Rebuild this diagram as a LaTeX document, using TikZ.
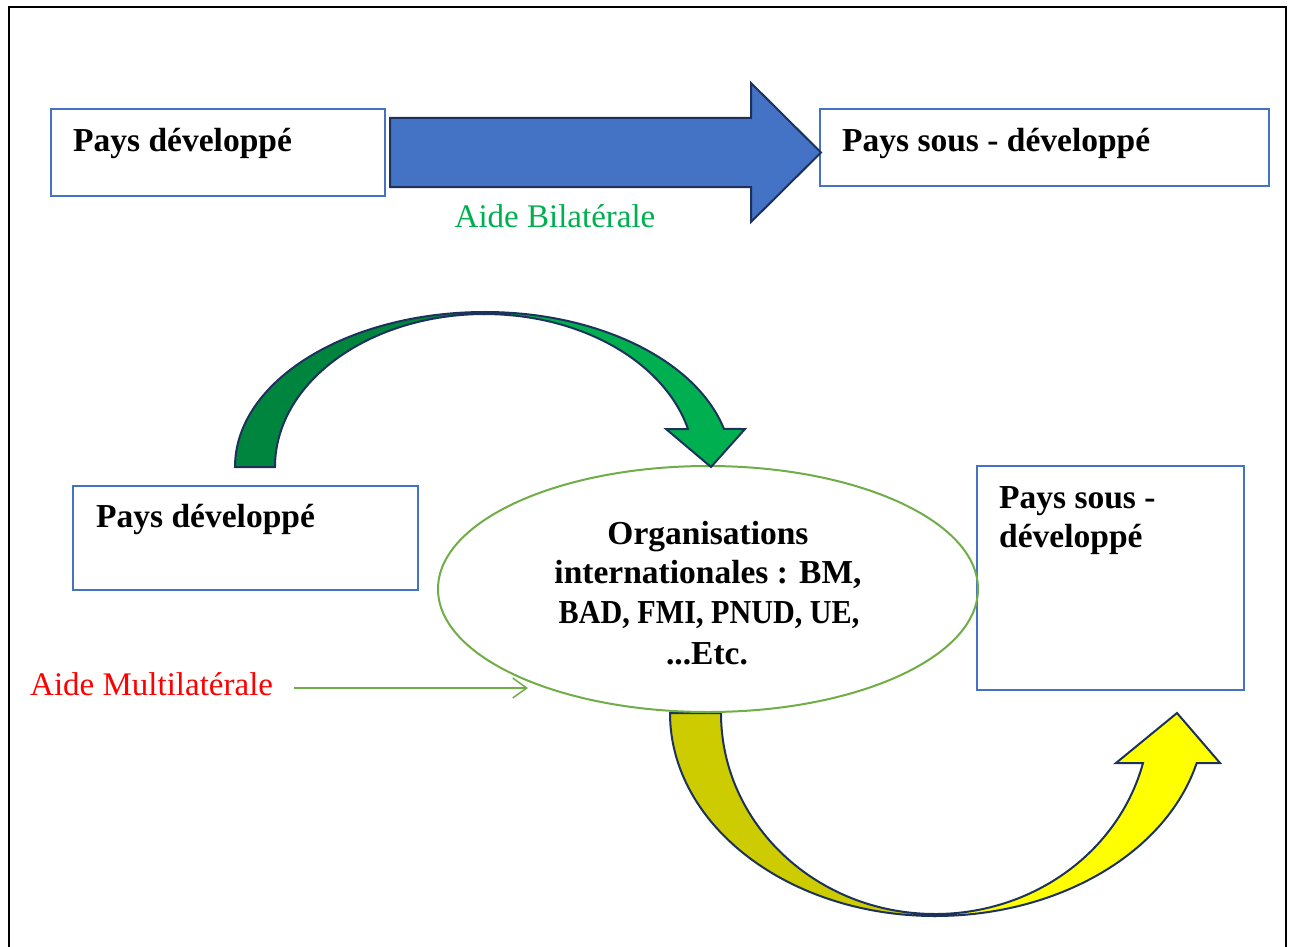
\documentclass[tikz,border=0pt]{standalone}
\usepackage{fontspec}
\setmainfont{Liberation Serif}
\usetikzlibrary{arrows.meta,calc,shapes.geometric}
\definecolor{boxblue}{RGB}{68,114,196}
\definecolor{arrowline}{RGB}{28,50,90}
\definecolor{darkgr}{RGB}{0,133,62}
\definecolor{brightgr}{RGB}{0,176,80}
\definecolor{olivefill}{RGB}{204,204,0}
\definecolor{yelfill}{RGB}{255,255,0}
\definecolor{ellgreen}{RGB}{112,173,71}
\begin{document}
\begin{tikzpicture}[x=1pt,y=1pt,
  box/.style={draw=boxblue, line width=2pt, rectangle, inner sep=0pt},
  btxt/.style={font=\fontsize{33.5}{40}\selectfont\bfseries, inner sep=0pt},
  lbl/.style={font=\fontsize{33}{40}\selectfont, inner sep=0pt},
  blockarrow/.style={draw=arrowline, line width=2pt, line join=miter}]
\useasboundingbox (0,0) rectangle (1290,-947);
\draw[line width=1.4pt] (9,-960) -- (9,-7) -- (1286,-7) -- (1286,-960);

% top row
\node[box, minimum width=334pt, minimum height=87pt] (pd1) at (218,-152.5) {};
\node[btxt, anchor=base west] (t1) at (73,-151) {Pays développé};
\node[box, minimum width=449pt, minimum height=77pt] (psd1) at (1044.5,-147.5) {};
\node[btxt, anchor=base west] (t2) at (842,-151) {Pays sous - développé};

\coordinate (a1s) at ($(pd1.east)+(4,0)$);
\coordinate (a1t) at ($(psd1.west)+(2,-5)$);
\draw[blockarrow, fill=boxblue] ($(a1s)+(0,34.5)$) -- ($(a1t)+(-70,34.5)$) -- ($(a1t)+(-70,69.5)$)
  -- (a1t) -- ($(a1t)+(-70,-69.5)$) -- ($(a1t)+(-70,-34.5)$) -- ($(a1s)+(0,-34.5)$) -- cycle;
\node[lbl, text=brightgr, anchor=base] (ab) at (555,-227) {Aide Bilatérale};

% bottom part
\node[box, minimum width=345pt, minimum height=104pt] (pd2) at (245.5,-538) {};
\node[btxt, anchor=base west] (t3) at (96,-527) {Pays développé};
\node[box, minimum width=267pt, minimum height=224pt] (psd2) at (1110.5,-578) {};
\node[btxt, anchor=base west] (t4a) at (999,-508) {Pays sous -};
\node[btxt, anchor=base west] (t4b) at (999,-547) {développé};

% yellow curved arrow
\draw[blockarrow, fill=olivefill] (670,-713) arc[start angle=180,end angle=270,x radius=265pt,y radius=203pt]
  -- (935,-914) arc[start angle=270,end angle=180,x radius=214pt,y radius=201pt] -- cycle;
\draw[blockarrow, fill=yelfill] (935,-916) arc[start angle=270,end angle=345.7,x radius=270pt,y radius=203pt]
  -- (1220,-763) -- (1177,-713) -- (1116,-763) -- (1143,-763)
  arc[start angle=345.6,end angle=270,x radius=214.7pt,y radius=201pt] -- cycle;

\node[ellipse, draw=ellgreen, line width=2pt, minimum width=540pt, minimum height=246pt, inner sep=0pt] (org) at (708,-589) {};
\node[btxt, anchor=base] (o1) at (708,-544) {Organisations};
\node[btxt, anchor=base] (o2) at (708,-583.5) {internationales : BM,};
\node[btxt, anchor=base, xscale=0.9, transform shape] (o3) at (709,-623.5) {BAD, FMI, PNUD, UE,};
\node[btxt, anchor=base] (o4) at (707,-664) {...Etc.};

% green curved arrow
\draw[blockarrow, fill=darkgr] (235,-467) arc[start angle=180,end angle=90,x radius=250pt,y radius=155pt]
  -- (485,-314) arc[start angle=90,end angle=180,x radius=210pt,y radius=153pt] -- cycle;
\draw[blockarrow, fill=brightgr] (485,-312) arc[start angle=90,end angle=14.2,x radius=246.5pt,y radius=155pt]
  -- (745,-429) -- (711,-467) -- (666,-429) -- (688,-429)
  arc[start angle=14.4,end angle=90,x radius=210pt,y radius=153pt] -- cycle;

% multilateral label and arrow
\node[lbl, text=red, anchor=base west] (am) at (30,-695) {Aide Multilatérale};
\coordinate (amend) at (528,-688);
\draw[draw=ellgreen, line width=1.5pt, -{Straight Barb[length=14pt,width=20pt]}] ($(am.east |- amend)+(21,0)$) -- (amend);
\end{tikzpicture}
\end{document}
